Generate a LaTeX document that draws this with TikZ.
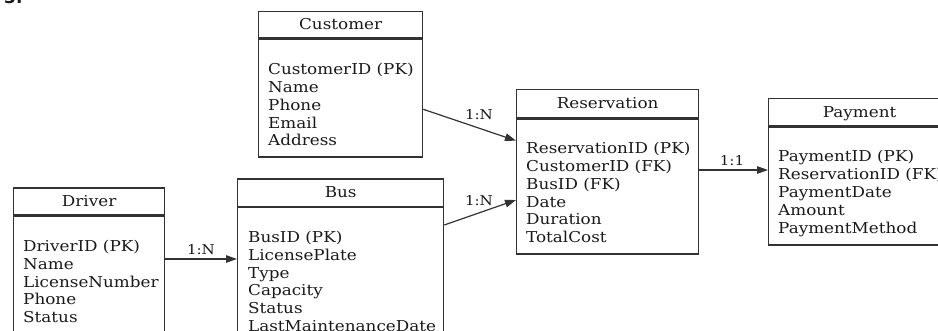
\documentclass[tikz,border=0pt]{standalone}
\usepackage{fontspec}
\setmainfont{DejaVu Serif}[FakeStretch=1.12]
\newfontfamily\numfont{DejaVu Sans}
\usetikzlibrary{arrows.meta}
\definecolor{ink}{HTML}{1A1A1A}
\definecolor{edge}{HTML}{333333}
\tikzset{
  every node/.style={text=ink},
  box/.style={draw=edge, line width=1.3pt, rectangle, inner sep=0pt, fill=none},
  hdr/.style={box, font=\fontsize{15pt}{17.7pt}\selectfont, text height=10.5pt, text depth=0pt},
  attr/.style={anchor=base west, inner sep=0pt, font=\fontsize{15pt}{17.7pt}\selectfont},
  rel/.style={anchor=base, inner sep=0pt, font=\fontsize{13.5pt}{15pt}\selectfont},
  conn/.style={draw=edge, line width=1.2pt, -{Triangle[length=11pt,width=7.5pt]}},
}
\begin{document}
\begin{tikzpicture}[x=1pt,y=-1pt]
\useasboundingbox (0,0) rectangle (938,331);
\clip (0,0) rectangle (938,331);
\fill[white] (0,0) rectangle (938,331);

\node[anchor=base west, inner sep=0pt, font=\numfont\bfseries\fontsize{17pt}{20pt}\selectfont] (num) at (4,4) {3.};

% Customer
\node[hdr, minimum width=164pt, minimum height=26pt, anchor=north west] (custh) at (258,11) {Customer};
\node[box, minimum width=164pt, minimum height=118pt, anchor=north west] (custb) at (custh.south west) {};
\foreach \t [count=\i from 0] in {CustomerID (PK),Name,Phone,Email,Address}
  \node[attr] (cust-\i) at (268,75+17.7*\i) {\t};

% Driver
\node[hdr, minimum width=151pt, minimum height=27pt, anchor=north west] (drvh) at (13,187.5) {Driver};
\node[box, minimum width=151pt, minimum height=140pt, anchor=north west] (drvb) at (drvh.south west) {};
\foreach \t [count=\i from 0] in {DriverID (PK),Name,LicenseNumber,Phone,Status}
  \node[attr] (drv-\i) at (23,251.7+17.75*\i) {\t};

% Bus
\node[hdr, minimum width=206pt, minimum height=27.5pt, anchor=north west] (bush) at (237,178.3) {Bus};
\node[box, minimum width=206pt, minimum height=150pt, anchor=north west] (busb) at (bush.south west) {};
\foreach \t [count=\i from 0] in {BusID (PK),LicensePlate,Type,Capacity,Status,LastMaintenanceDate}
  \node[attr] (bus-\i) at (248,242.7+17.7*\i) {\t};

% Reservation
\node[hdr, minimum width=182pt, minimum height=28pt, anchor=north west] (resh) at (516,89) {Reservation};
\node[box, minimum width=182pt, minimum height=135pt, anchor=north west] (resb) at (resh.south west) {};
\foreach \t [count=\i from 0] in {ReservationID (PK),CustomerID (FK),BusID (FK),Date,Duration,TotalCost}
  \node[attr] (res-\i) at (526,154+17.74*\i) {\t};

% Payment
\node[hdr, minimum width=182pt, minimum height=27pt, anchor=north west] (payh) at (768,98) {Payment};
\node[box, minimum width=182pt, minimum height=118pt, anchor=north west] (payb) at (payh.south west) {};
\foreach \t [count=\i from 0] in {PaymentID (PK),ReservationID (FK),PaymentDate,Amount,PaymentMethod}
  \node[attr] (pay-\i) at (778,161.7+17.9*\i) {\t};

% Connectors
\draw[conn] (custb.east |- 0,109.3) -- (resb.west |- 0,140.7);
\node[rel] (l1) at (479,120) {1:N};
\draw[conn] (busb.east |- 0,225) -- (resb.west |- 0,200);
\node[rel] (l2) at (479,206) {1:N};
\draw[conn] (drvb.east |- 0,259) -- (busb.west |- 0,259);
\node[rel] (l3) at (201,254.5) {1:N};
\draw[conn] (resb.east |- 0,170) -- (payb.west |- 0,170);
\node[rel] (l4) at (732,166) {1:1};
\end{tikzpicture}
\end{document}
